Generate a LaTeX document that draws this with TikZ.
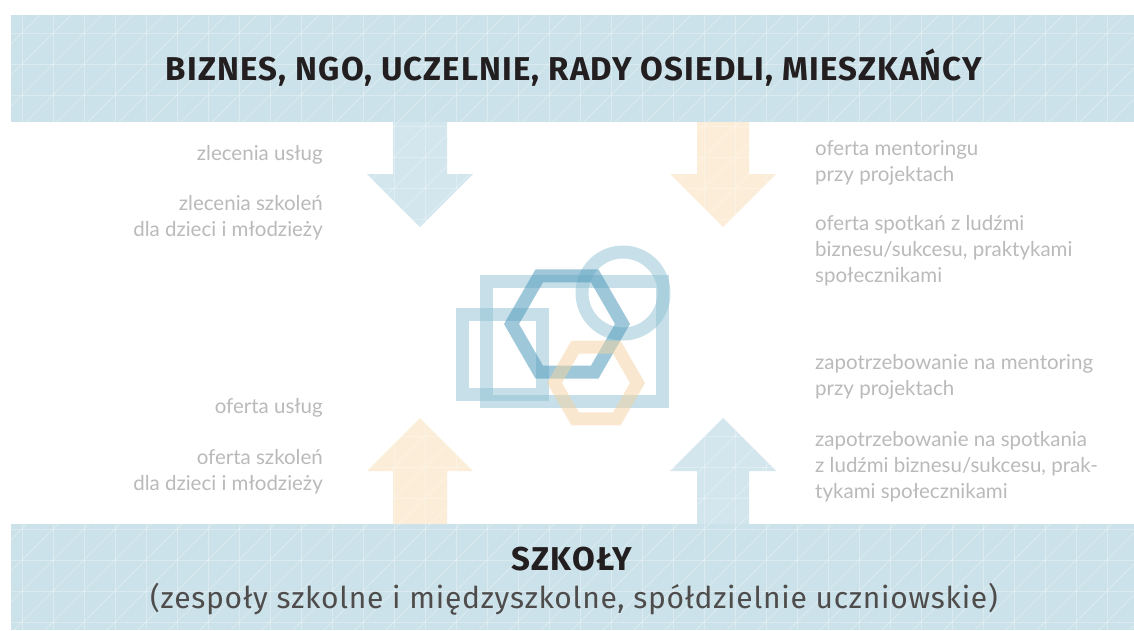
\documentclass[tikz,border=0pt]{standalone}
\usepackage{fontspec}
\setmainfont{Lato}
\newfontfamily\headfont{Fira Sans}[LetterSpace=3.5]
\newfontfamily\subfont{Fira Sans}[LetterSpace=2.5]
\usetikzlibrary{positioning}

\definecolor{bandblue}{HTML}{CCE2EA}
\definecolor{arrowblue}{HTML}{D3E6EE}
\definecolor{arroworange}{HTML}{FCEDD8}
\definecolor{logoblue}{HTML}{8FC1D3}
\definecolor{logodark}{HTML}{4F9BBB}
\definecolor{logoorange}{HTML}{F5D3A0}
\definecolor{headink}{HTML}{231F20}
\definecolor{noteink}{HTML}{BABABA}

\tikzset{
  gridline/.style={white,opacity=0.28,line width=0.8pt},
  logoline/.style={line width=13pt,line join=miter},
  headtext/.style={font=\headfont\bfseries\fontsize{33}{33}\selectfont,text=headink,inner sep=0pt},
  subtext/.style={font=\subfont\fontsize{30}{30}\selectfont,text=headink!80,inner sep=0pt},
  note/.style={font=\fontsize{20.5}{26}\selectfont,text=noteink,inner sep=0pt},
  noteleft/.style={note,align=right,anchor=east},
  noteright/.style={note,align=left,anchor=west}
}

\begin{document}
\begin{tikzpicture}[x=1pt,y=-1pt]
\useasboundingbox (0,0) rectangle (1134,630);
\fill[white] (0,0) rectangle (1134,630);

% bands and arrows
\fill[bandblue] (11,15) rectangle (1134,122);
\fill[bandblue] (11,524) rectangle (1134,630);
\fill[arrowblue] (393,122) -- (447,122) -- (447,174) -- (473,174) -- (420,227) -- (367,174) -- (393,174) -- cycle;
\fill[arroworange] (697,122) -- (749,122) -- (749,174) -- (776,174) -- (723,227) -- (670,174) -- (697,174) -- cycle;
\fill[arroworange] (393,524) -- (447,524) -- (447,471) -- (473,471) -- (420,418) -- (367,471) -- (393,471) -- cycle;
\fill[arrowblue] (697,524) -- (749,524) -- (749,471) -- (776,471) -- (723,418) -- (670,471) -- (697,471) -- cycle;

% triangle grid over the coloured parts
\begin{scope}
\clip (11,15) rectangle (1134,122) (11,524) rectangle (1134,630)
  (393,122) -- (447,122) -- (447,174) -- (473,174) -- (420,227) -- (367,174) -- (393,174) -- cycle
  (697,122) -- (749,122) -- (749,174) -- (776,174) -- (723,227) -- (670,174) -- (697,174) -- cycle
  (393,524) -- (447,524) -- (447,471) -- (473,471) -- (420,418) -- (367,471) -- (393,471) -- cycle
  (697,524) -- (749,524) -- (749,471) -- (776,471) -- (723,418) -- (670,471) -- (697,471) -- cycle;
\foreach \x in {-9,22,...,1150}
  \draw[gridline] (\x,0) -- (\x,630);
\foreach \y in {2,33,...,640}
  \draw[gridline] (0,\y) -- (1134,\y);
\foreach \c in {24,55,...,1800}
  \draw[gridline] (\c,0) -- (\c-700,700);
\end{scope}

% logo
\draw[logoline,logoblue,opacity=0.5] (486.5,281.5) rectangle (662.5,401.5);
\draw[logoline,logoblue,opacity=0.5] (462.5,314.5) rectangle (542.5,394.5);
\draw[logoline,logoblue,opacity=0.5] (623,293) circle (41);
\draw[logoline,logodark,opacity=0.55] (567,324) +(0:55.5) -- +(60:55.5) -- +(120:55.5)
  -- +(180:55.5) -- +(240:55.5) -- +(300:55.5) -- cycle;
\draw[logoline,logoorange,opacity=0.5] (596,383) +(0:41.5) -- +(60:41.5) -- +(120:41.5)
  -- +(180:41.5) -- +(240:41.5) -- +(300:41.5) -- cycle;

% headings
\node[headtext] (partners) at (574,68) {BIZNES, NGO, UCZELNIE, RADY OSIEDLI, MIESZKAŃCY};
\node[headtext] (schools) at (572,559) {SZKOŁY};
\node[subtext] (schoolkinds) at (574,599) {(zespoły szkolne i międzyszkolne, spółdzielnie uczniowskie)};

% notes
\node[noteleft] (orders) at (323,155) {zlecenia usług};
\node[noteleft] (ordertrain) at (323,218) {zlecenia szkoleń\\dla dzieci i młodzieży};
\node[noteleft] (offer) at (323,408) {oferta usług};
\node[noteleft] (offertrain) at (323,472) {oferta szkoleń\\dla dzieci i młodzieży};
\node[noteright] (mentor) at (815,163) {oferta mentoringu\\przy projektach};
\node[noteright] (meetings) at (815,251) {oferta spotkań z ludźmi\\biznesu/sukcesu, praktykami\\społecznikami};
\node[noteright] (needmentor) at (815,377) {zapotrzebowanie na mentoring\\przy projektach};
\node[noteright] (needmeet) at (815,467) {zapotrzebowanie na spotkania\\z ludźmi biznesu/sukcesu, prak-\\tykami społecznikami};
\end{tikzpicture}
\end{document}
